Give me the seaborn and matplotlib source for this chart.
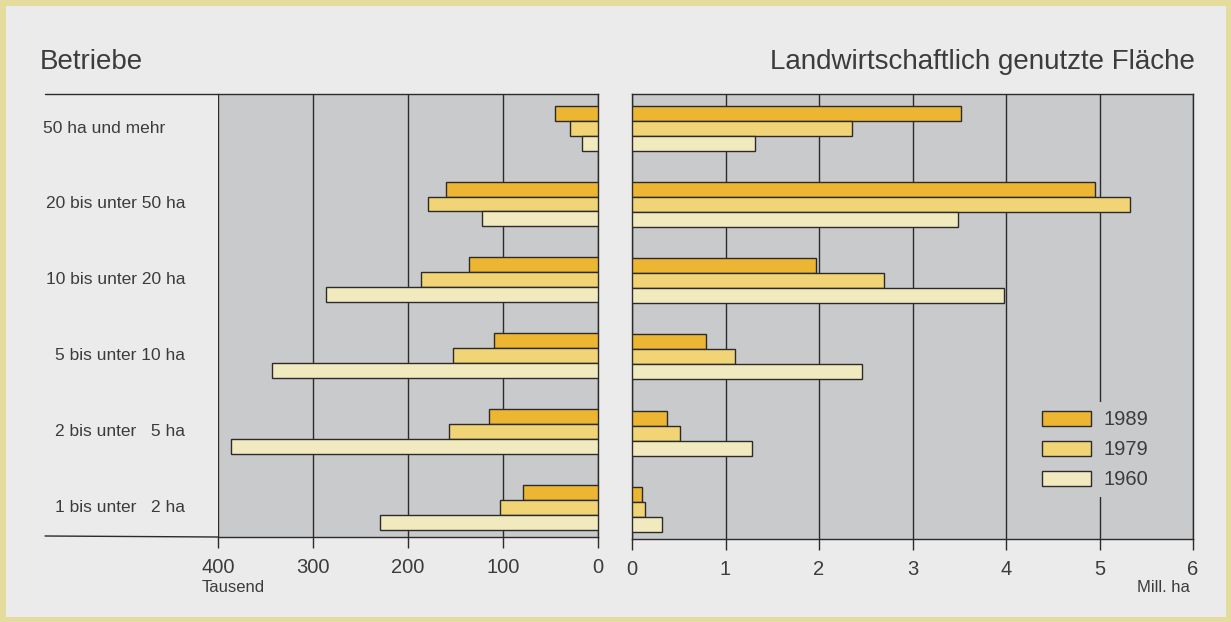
import matplotlib
matplotlib.use("Agg")
import matplotlib.pyplot as plt
import matplotlib.transforms as mtransforms
import seaborn as sns
import pandas as pd
from matplotlib.patches import Rectangle
from matplotlib.lines import Line2D

# categories (top to bottom) and years
categories = ["50 ha und mehr", "20 bis unter 50 ha", "10 bis unter 20 ha",
              "5 bis unter 10 ha", "2 bis unter   5 ha", "1 bis unter   2 ha"]
years = ["1989", "1979", "1960"]

# Betriebe in Tausend
betriebe_1989 = [45, 160, 136, 109, 115, 79]
betriebe_1979 = [30, 179, 186, 153, 157, 103]
betriebe_1960 = [17, 122, 286, 343, 386, 229]

# landwirtschaftlich genutzte Flaeche in Mill. ha
flaeche_1989 = [3.52, 4.95, 1.97, 0.79, 0.37, 0.11]
flaeche_1979 = [2.35, 5.33, 2.70, 1.10, 0.51, 0.14]
flaeche_1960 = [1.32, 3.49, 3.98, 2.46, 1.28, 0.32]

left_ticks = [400, 300, 200, 100, 0]
right_ticks = [0, 1, 2, 3, 4, 5, 6]

colors = {"1989": "#ecb632", "1979": "#f0d476", "1960": "#f1eabf"}
plot_bg = "#c9cacc"
fig_bg = "#ebebec"
dark = "#2b2b2b"
text_c = "#3c3c3c"


def long_table(v89, v79, v60):
    rows = []
    for year, vals in zip(years, [v89, v79, v60]):
        for cat, v in zip(categories, vals):
            rows.append({"Kategorie": cat, "Jahr": year, "Wert": v})
    return pd.DataFrame(rows)


df_b = long_table(betriebe_1989, betriebe_1979, betriebe_1960)
df_f = long_table(flaeche_1989, flaeche_1979, flaeche_1960)

sns.set_style("white")
plt.rcParams["font.family"] = ["Liberation Sans", "DejaVu Sans"]

fig = plt.figure(figsize=(12.31, 6.22), dpi=100, facecolor=fig_bg)
ax_l = fig.add_axes([218 / 1231, 1 - 537 / 622, 380 / 1231, 443 / 622])
ax_r = fig.add_axes([632 / 1231, 1 - 539 / 622, 561 / 1231, 445 / 622])

for ax, df in [(ax_l, df_b), (ax_r, df_f)]:
    sns.barplot(data=df, y="Kategorie", x="Wert", hue="Jahr", hue_order=years,
                order=categories, orient="h", palette=colors, saturation=1,
                width=0.59, edgecolor=dark, linewidth=1.0, ax=ax,
                legend=(ax is ax_r), zorder=3)
    ax.set_facecolor(plot_bg)
    ax.set_ylim(5.39, -0.45)
    ax.set_xlabel("")
    ax.set_ylabel("")
    ax.grid(axis="x", color=dark, linewidth=1.0, zorder=1)
    ax.grid(axis="y", visible=False)
    ax.tick_params(axis="x", direction="out", length=8, width=1.0, color=dark,
                   labelsize=14.5, labelcolor=text_c, pad=7, bottom=True)
    ax.set_yticks([])
    for s in ax.spines.values():
        s.set_color(dark)
        s.set_linewidth(1.0)

# left panel
ax_l.set_xlim(400, 0)
ax_l.set_xticks(left_ticks)
ax_l.spines["left"].set_visible(False)

# category labels (figure x, data y)
trans = mtransforms.blended_transform_factory(fig.transFigure, ax_l.transData)
for i, cat in enumerate(categories):
    if i == 0:
        fig.text(43 / 1231, i, cat, transform=trans, ha="left", va="center",
                 fontsize=12.5, color=text_c)
    else:
        fig.text(185 / 1231, i, cat, transform=trans, ha="right", va="center",
                 fontsize=12.5, color=text_c)

# right panel
ax_r.set_xlim(0, 6)
ax_r.set_xticks(right_ticks)

leg = ax_r.legend(loc="upper left", bbox_to_anchor=(0.699, 0.33), frameon=True,
                  fontsize=14.5, handlelength=2.4, handleheight=0.75,
                  labelspacing=0.55, handletextpad=0.65, borderpad=0.4)
leg.get_frame().set_facecolor(plot_bg)
leg.get_frame().set_edgecolor("none")
leg.get_frame().set_alpha(1)
for t in leg.get_texts():
    t.set_color(text_c)

# extension lines of the left label area
fig.add_artist(Line2D([45 / 1231, 218 / 1231], [1 - 94 / 622, 1 - 94 / 622],
                      color=dark, linewidth=1.0, transform=fig.transFigure))
fig.add_artist(Line2D([45 / 1231, 218 / 1231], [1 - 536 / 622, 1 - 537 / 622],
                      color=dark, linewidth=1.0, transform=fig.transFigure))

# titles and units
fig.text(40 / 1231, 1 - 62 / 622, "Betriebe", fontsize=20, color=text_c,
         va="center", ha="left")
fig.text(1195 / 1231, 1 - 62 / 622, "Landwirtschaftlich genutzte Fläche",
         fontsize=20, color=text_c, va="center", ha="right")
fig.text(202 / 1231, 1 - 587 / 622, "Tausend", fontsize=12, color=text_c,
         va="center", ha="left")
fig.text(1190 / 1231, 1 - 587 / 622, "Mill. ha", fontsize=12, color=text_c,
         va="center", ha="right")

# yellowish frame around the page
fig.add_artist(Rectangle((0.002, 0.003), 0.996, 0.994, transform=fig.transFigure,
                         fill=False, edgecolor="#e4dc9c", linewidth=5))

fig.savefig("out.png", dpi=100, facecolor=fig_bg)
